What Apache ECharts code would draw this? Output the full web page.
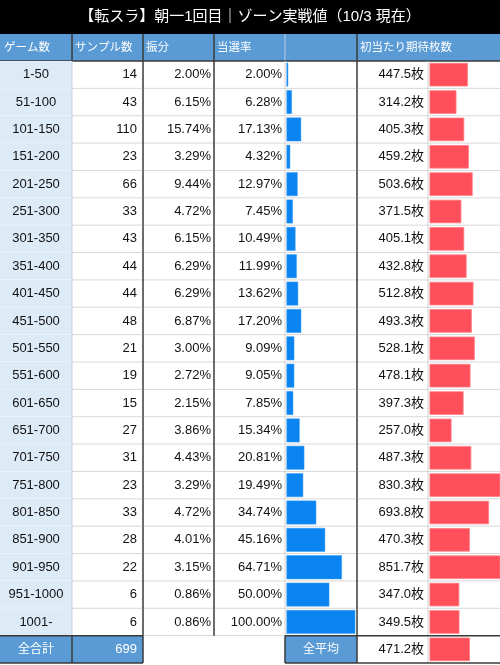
<!DOCTYPE html>
<html><head><meta charset="utf-8">
<script src="https://cdn.jsdelivr.net/npm/echarts@6/dist/echarts.min.js"></script>
<style>html,body{margin:0;padding:0;background:#fff}#c{width:500px;height:665px}</style>
</head><body><div id="c"></div>
<script>
const titleText = '【転スラ】朝一1回目｜ゾーン実戦値（10/3 現在）';
const headers = ['ゲーム数', 'サンプル数', '振分', '当選率', '', '初当たり期待枚数'];
const games = ['1-50','51-100','101-150','151-200','201-250','251-300','301-350','351-400','401-450','451-500','501-550','551-600','601-650','651-700','701-750','751-800','801-850','851-900','901-950','951-1000','1001-'];
const samples = [14,43,110,23,66,33,43,44,44,48,21,19,15,27,31,23,33,28,22,6,6];
const share = [2.00,6.15,15.74,3.29,9.44,4.72,6.15,6.29,6.29,6.87,3.00,2.72,2.15,3.86,4.43,3.29,4.72,4.01,3.15,0.86,0.86];
const rate = [2.00,6.28,17.13,4.32,12.97,7.45,10.49,11.99,13.62,17.20,9.09,9.05,7.85,15.34,20.81,19.49,34.74,45.16,64.71,50.00,100.00];
const coins = [447.5,314.2,405.3,459.2,503.6,371.5,405.1,432.8,512.8,493.3,528.1,478.1,397.3,257.0,487.3,830.3,693.8,470.3,851.7,347.0,349.5];
const totalLabel = '全合計';
const totalSamples = 699;
const avgLabel = '全平均';
const avgCoins = 471.2;

const FONT = '"Liberation Sans", Arial, "Noto Sans CJK JP", sans-serif';
const DARK = '#3a3a3a';
const HEAD_BLUE = '#5B9BD5';
const rowCats = games.concat([totalLabel]);

function tx(s, x, y, align, color, size) {
  return {type: 'text', x: x, y: y, style: {text: String(s), fill: color || '#111', font: (size || 13) + 'px ' + FONT,
    align: align, textAlign: align, verticalAlign: 'middle', textVerticalAlign: 'middle'}};
}
function ln(x1, y1, x2, y2, color, w) {
  return {type: 'line', shape: {x1: x1, y1: y1, x2: x2, y2: y2}, style: {stroke: color, lineWidth: w || 1}};
}
function rc(x, y, w, h, fill) {
  return {type: 'rect', shape: {x: x, y: y, width: w, height: h}, style: {fill: fill}};
}

function renderRow(params, api) {
  const i = api.value(1);
  const c = api.coord([0, i]);
  const h = api.size([0, 1])[1];
  const top = c[1] - h / 2, bot = c[1] + h / 2, mid = c[1];
  const ch = [];
  if (i < games.length) {
    ch.push(rc(0, top, 72, h, '#DDEBF7'));
    ch.push(ln(0, bot, 72, bot, '#f3f8fc'));
    ch.push(ln(72, bot, 500, bot, '#d8d8d8'));
    ch.push(ln(72, top, 72, bot, '#c3d4e6'));
    ch.push(ln(285, top, 285, bot, '#d0d0d0'));
    ch.push(ln(428, top, 428, bot, '#d0d0d0'));
    ch.push(ln(143, top, 143, bot, DARK, 1.5));
    ch.push(ln(214, top, 214, bot, DARK, 1.5));
    ch.push(ln(357, top, 357, bot, DARK, 1.5));
    ch.push(tx(games[i], 36, mid, 'center'));
    ch.push(tx(samples[i], 137, mid, 'right'));
    ch.push(tx(share[i].toFixed(2) + '%', 211, mid, 'right'));
    ch.push(tx(rate[i].toFixed(2) + '%', 282, mid, 'right'));
    ch.push(tx(coins[i].toFixed(1) + '枚', 424, mid, 'right'));
  } else {
    ch.push(rc(0, top, 143, h, HEAD_BLUE));
    ch.push(rc(285, top, 72, h, HEAD_BLUE));
    ch.push(ln(428, top, 428, bot, '#d0d0d0'));
    ch.push(ln(0, top, 143, top, DARK, 1.5));
    ch.push(ln(285, top, 500, top, DARK, 1.5));
    ch.push(ln(0, bot, 143, bot, DARK, 1.5));
    ch.push(ln(285, bot, 500, bot, DARK, 1.5));
    ch.push(ln(72, top, 72, bot, DARK, 1.5));
    ch.push(ln(143, top, 143, bot, DARK, 1.5));
    ch.push(ln(285, top, 285, bot, DARK, 1.5));
    ch.push(ln(357, top, 357, bot, DARK, 1.5));
    ch.push(tx(totalLabel, 36, mid, 'center', '#fff', 12));
    ch.push(tx(totalSamples, 137, mid, 'right', '#fff'));
    ch.push(tx(avgLabel, 321, mid, 'center', '#fff', 12));
    ch.push(tx(avgCoins.toFixed(1) + '枚', 424, mid, 'right'));
  }
  return {type: 'group', children: ch};
}

const headerEls = [
  {type: 'rect', shape: {x: 0, y: 0, width: 500, height: 34}, style: {fill: '#000'}},
  {type: 'text', x: 250, y: 17, style: {text: titleText, fill: '#fff', font: '15px ' + FONT, align: 'center', textAlign: 'center', verticalAlign: 'middle', textVerticalAlign: 'middle'}},
  {type: 'rect', shape: {x: 0, y: 34, width: 500, height: 27}, style: {fill: HEAD_BLUE}},
  {type: 'line', shape: {x1: 285, y1: 34, x2: 285, y2: 61}, style: {stroke: '#b5d0ea', lineWidth: 1}},
  {type: 'line', shape: {x1: 72, y1: 34, x2: 72, y2: 61}, style: {stroke: DARK, lineWidth: 1.5}},
  {type: 'line', shape: {x1: 143, y1: 34, x2: 143, y2: 61}, style: {stroke: DARK, lineWidth: 1.5}},
  {type: 'line', shape: {x1: 214, y1: 34, x2: 214, y2: 61}, style: {stroke: DARK, lineWidth: 1.5}},
  {type: 'line', shape: {x1: 357, y1: 34, x2: 357, y2: 61}, style: {stroke: DARK, lineWidth: 1.5}},
  {type: 'line', shape: {x1: 0, y1: 61, x2: 500, y2: 61}, style: {stroke: DARK, lineWidth: 1.5}}
];
const headX = [4, 75, 146, 217, 288, 360];
headers.forEach(function (t, k) {
  if (t) headerEls.push({type: 'text', x: headX[k], y: 47.5, style: {text: t, fill: '#fff', font: '11.5px ' + FONT, align: 'left', textAlign: 'left', verticalAlign: 'middle', textVerticalAlign: 'middle'}});
});

const chart = echarts.init(document.getElementById('c'), null, {renderer: 'canvas'});
const H = 602;
chart.setOption({
  animation: false,
  backgroundColor: '#fff',
  grid: [
    {left: 0, top: 61, width: 500, height: H},
    {left: 286.5, top: 61, width: 68.5, height: H},
    {left: 429.5, top: 61, width: 70.5, height: H}
  ],
  xAxis: [
    {gridIndex: 0, type: 'value', min: 0, max: 500, show: false},
    {gridIndex: 1, type: 'value', min: 0, max: 80, show: false},
    {gridIndex: 2, type: 'value', min: 0, max: 822, show: false}
  ],
  yAxis: [
    {gridIndex: 0, type: 'category', data: rowCats, inverse: true, show: false},
    {gridIndex: 1, type: 'category', data: rowCats, inverse: true, show: false},
    {gridIndex: 2, type: 'category', data: rowCats, inverse: true, show: false}
  ],
  graphic: {elements: headerEls},
  series: [
    {type: 'custom', xAxisIndex: 0, yAxisIndex: 0, renderItem: renderRow,
      data: rowCats.map(function (_, i) { return [0, i]; }), encode: {x: 0, y: 1}, silent: true, clip: false, z: 1},
    {type: 'bar', xAxisIndex: 1, yAxisIndex: 1, data: rate.concat([null]), barCategoryGap: '13%',
      itemStyle: {color: '#0A84F0', borderColor: '#3a9cf5', borderWidth: 0.5}, clip: true, z: 3, silent: true},
    {type: 'bar', xAxisIndex: 2, yAxisIndex: 2, data: coins.concat([avgCoins]), barCategoryGap: '14%',
      itemStyle: {color: '#FF4F5A', borderColor: '#ff8088', borderWidth: 0.8}, clip: true, z: 3, silent: true}
  ]
});
</script>
</body></html>
